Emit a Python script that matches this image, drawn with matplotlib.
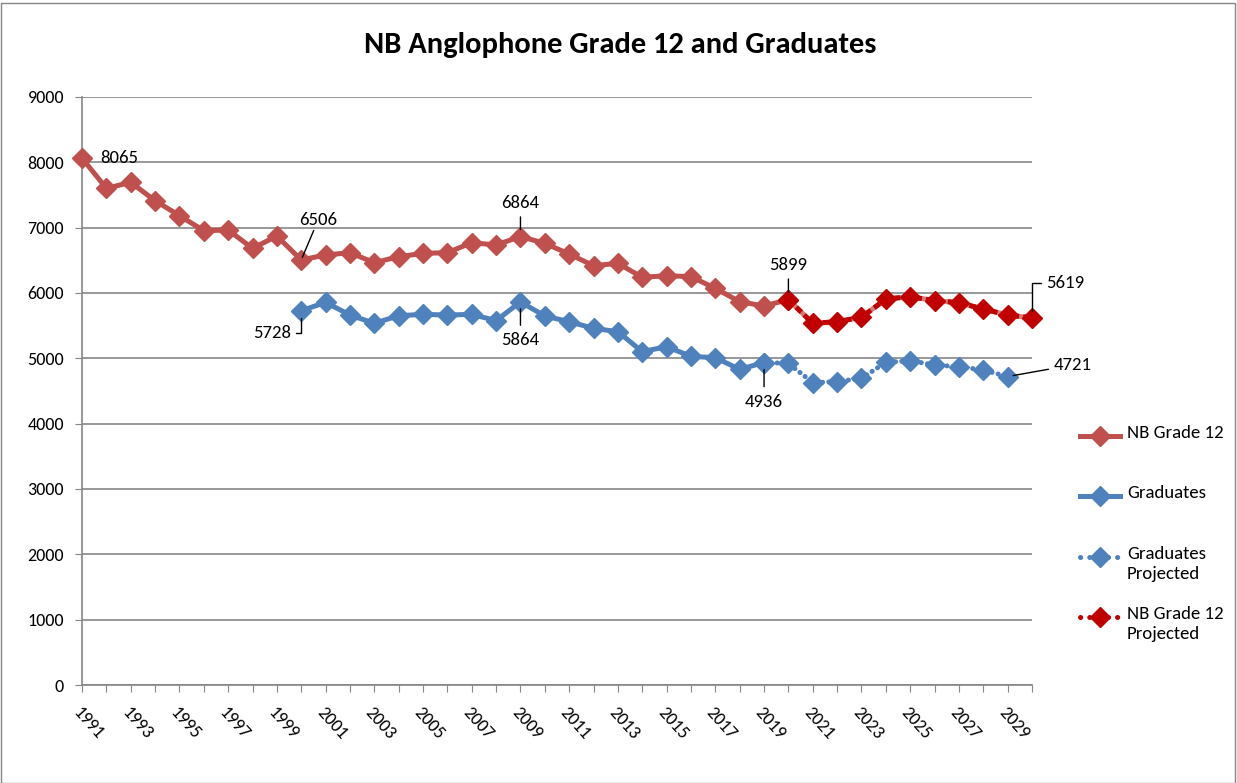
import matplotlib
matplotlib.use('Agg')
import matplotlib.pyplot as plt
from matplotlib import font_manager
from matplotlib.lines import Line2D
from matplotlib.patches import Rectangle
import numpy as np

installed = set(f.name for f in font_manager.fontManager.ttflist)
prefs = ['Carlito', 'Liberation Sans Narrow', 'Roboto Condensed', 'Open Sans', 'DejaVu Sans']
plt.rcParams['font.family'] = [f for f in prefs if f in installed] + ['DejaVu Sans']

years = np.arange(1991, 2031)

# NB Grade 12 enrolment, actual 1991-2020
grade12 = [8065, 7602, 7694, 7413, 7184, 6954, 6964, 6684, 6872, 6506,
           6582, 6617, 6464, 6556, 6607, 6617, 6770, 6735, 6864, 6760,
           6597, 6418, 6454, 6240, 6265, 6250, 6071, 5867, 5801, 5899]
# projected 2020-2030
grade12_proj = [5899, 5536, 5561, 5628, 5908, 5944, 5883, 5852, 5755, 5663, 5619]

# graduates, actual 2000-2019
grads = [5728, 5857, 5663, 5536, 5653, 5673, 5663, 5673, 5577, 5864,
         5648, 5561, 5459, 5408, 5102, 5179, 5030, 5010, 4832, 4936]
# projected 2019-2029
grads_proj = [4936, 4923, 4628, 4643, 4694, 4939, 4964, 4898, 4872, 4821, 4721]

yr_g12 = years[:30]
yr_g12p = years[29:]
yr_gr = years[9:29]
yr_grp = years[28:39]

RED = '#C0504D'
BLUE = '#4F81BD'
DRED = '#C00000'
PINK = '#D77A7A'
GRID = '#868686'
BLUE_DOT = (0, (0.05, 1.25))
RED_DASH = (0, (1.4, 0.8))

fig = plt.figure(figsize=(12.37, 7.83), dpi=100)
ax = fig.add_axes([82 / 1237, 1 - 685 / 783, 950 / 1237, 588 / 783])

lw = 3.6
ms = 10
ax.plot(yr_g12, grade12, color=RED, lw=lw, marker='D', ms=ms, clip_on=False, zorder=4)
ax.plot(yr_gr, grads, color=BLUE, lw=lw, marker='D', ms=ms, clip_on=False, zorder=4)
ax.plot(yr_grp, grads_proj, color=BLUE, lw=lw, ls=BLUE_DOT, dash_capstyle='round',
        marker='D', ms=ms, clip_on=False, zorder=3)
ax.plot(yr_g12p, grade12_proj, color=PINK, lw=lw, clip_on=False, zorder=5)
ax.plot(yr_g12p, grade12_proj, color=DRED, lw=lw, ls=RED_DASH, dash_capstyle='butt',
        marker='D', ms=ms, clip_on=False, zorder=5)

ax.set_xlim(1991, 2030)
ax.set_ylim(0, 9000)
ax.set_yticks(np.arange(0, 9001, 1000))
ax.yaxis.grid(True, color=GRID, lw=1.2)
ax.set_axisbelow(True)
ax.set_xticks(years)
ax.set_xticklabels([str(y) if (y - 1991) % 2 == 0 else '' for y in years],
                   rotation=-48, ha='left', va='top', rotation_mode='anchor')
ax.tick_params(axis='x', length=5, color=GRID, labelsize=13, pad=9)
ax.tick_params(axis='y', length=5, color=GRID, labelsize=13, pad=8)
for s in ['top', 'right']:
    ax.spines[s].set_visible(False)
ax.spines['left'].set_color(GRID)
ax.spines['bottom'].set_color(GRID)
ax.spines['left'].set_linewidth(1.2)
ax.spines['bottom'].set_linewidth(1.2)

fig.text(620 / 1237, 1 - 45 / 783, 'NB Anglophone Grade 12 and Graduates', ha='center',
         va='center', fontsize=22, fontweight='bold')

# data labels with leader lines
lbl = dict(fontsize=13.5, color='black', zorder=6)
ax.annotate('8065', (1991, 8065), xytext=(1991.75, 8065), va='center', ha='left', **lbl)
ax.annotate('6506', (2000, 6506), xytext=(2000.7, 7000), ha='center', va='bottom',
            arrowprops=dict(arrowstyle='-', color='black', lw=1, shrinkA=0, shrinkB=2), **lbl)
ax.annotate('6864', (2009, 6864), xytext=(2009, 7250), ha='center', va='bottom',
            arrowprops=dict(arrowstyle='-', color='black', lw=1, shrinkA=2, shrinkB=5), **lbl)
ax.annotate('5899', (2020, 5899), xytext=(2020, 6300), ha='center', va='bottom',
            arrowprops=dict(arrowstyle='-', color='black', lw=1, shrinkA=2, shrinkB=5), **lbl)
ax.annotate('5864', (2009, 5864), xytext=(2009, 5400), ha='center', va='top',
            arrowprops=dict(arrowstyle='-', color='black', lw=1, shrinkA=3, shrinkB=5), **lbl)
ax.annotate('4936', (2019, 4936), xytext=(2019, 4460), ha='center', va='top',
            arrowprops=dict(arrowstyle='-', color='black', lw=1, shrinkA=3, shrinkB=5), **lbl)
ax.annotate('5728', (2000, 5728), xytext=(1999.6, 5390), ha='right', va='center',
            arrowprops=dict(arrowstyle='-', color='black', lw=1, shrinkA=1, shrinkB=5,
                            connectionstyle='angle,angleA=0,angleB=90,rad=0'), **lbl)
ax.annotate('5619', (2030, 5619), xytext=(2030.6, 6160), ha='left', va='center',
            arrowprops=dict(arrowstyle='-', color='black', lw=1, shrinkA=2, shrinkB=5,
                            connectionstyle='angle,angleA=0,angleB=90,rad=0'),
            annotation_clip=False, **lbl)
ax.annotate('4721', (2029, 4721), xytext=(2030.9, 4900), ha='left', va='center',
            arrowprops=dict(arrowstyle='-', color='black', lw=1, shrinkA=2, shrinkB=4),
            annotation_clip=False, **lbl)

# legend drawn by hand (Excel style slots)
entries = [('NB Grade 12', RED, '-', 436),
           ('Graduates', BLUE, '-', 496),
           ('Graduates\nProjected', BLUE, (0, (0.05, 1.8)), 557),
           ('NB Grade 12\nProjected', DRED, (0, (0.05, 1.8)), 617)]
for name, col, ls, ypx in entries:
    yf = 1 - ypx / 783
    fig.add_artist(Line2D([1080 / 1237, 1120 / 1237], [yf, yf], color=col, lw=lw, ls=ls,
                          dash_capstyle='round'))
    fig.add_artist(Line2D([1100 / 1237], [yf], color=col, marker='D', ms=ms, ls='none'))
    fig.text(1127 / 1237, yf + 11 / 783, name, ha='left', va='top', fontsize=13.5,
             linespacing=1.3)

fig.add_artist(Rectangle((0.5 / 1237, 0.5 / 783), 1234 / 1237, 780 / 783, fill=False,
                         ec='#868686', lw=1, transform=fig.transFigure))

fig.savefig('out.png', dpi=100)
